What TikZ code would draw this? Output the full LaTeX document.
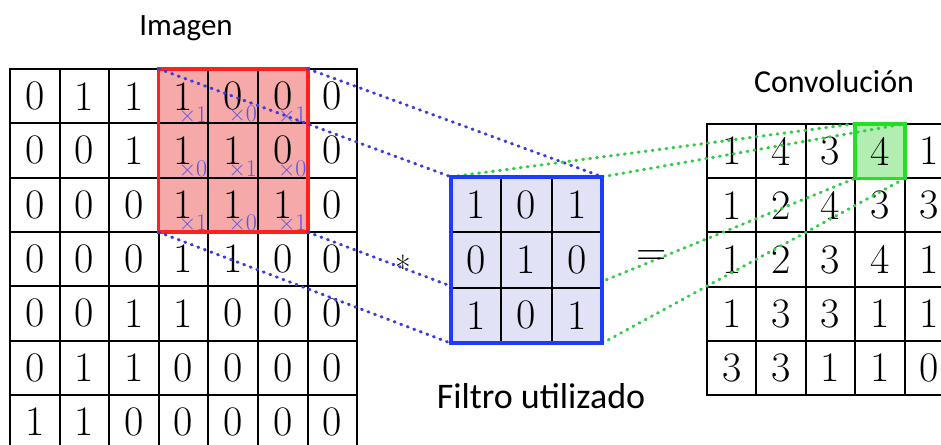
\documentclass[tikz,border=0pt]{standalone}
\usepackage{fontspec}
\newfontfamily\labelfont{Carlito}
\definecolor{redfill}{HTML}{F5A9A9}
\definecolor{redline}{HTML}{FF2020}
\definecolor{bluefill}{HTML}{E2E2F6}
\definecolor{blueline}{HTML}{1E3CFF}
\definecolor{bluedot}{HTML}{3C3CDC}
\definecolor{bluetext}{HTML}{5555E6}
\definecolor{greenfill}{HTML}{B2EEB2}
\definecolor{greenline}{HTML}{22E022}
\definecolor{greendot}{HTML}{33CC44}
\tikzset{
  cellL/.style={draw=black, line width=2pt, minimum width=49.6pt, minimum height=54.3pt, inner sep=0pt, font=\fontsize{42}{42}\selectfont},
  cellF/.style={draw=black, line width=2pt, minimum width=50.3pt, minimum height=55.3pt, inner sep=0pt, font=\fontsize{42}{42}\selectfont},
  cellR/.style={draw=black, line width=2pt, minimum width=49.4pt, minimum height=54.2pt, inner sep=0pt, font=\fontsize{42}{42}\selectfont},
  xlab/.style={text=bluetext, inner sep=0pt, anchor=south east, font=\fontsize{24}{24}\selectfont},
  dotline/.style={line width=3pt, dash pattern=on 1pt off 6pt, line cap=round},
  caption/.style={font=\labelfont\fontsize{31}{31}\selectfont, anchor=base, inner sep=0pt},
  opsym/.style={font=\fontsize{42}{42}\selectfont, inner sep=0pt}
}
\begin{document}
\begin{tikzpicture}[x=1pt,y=-1pt]
\useasboundingbox (0,0) rectangle (941,444);
\clip (0,0) rectangle (941,444);
\fill[white] (0,0) rectangle (941,444);
% ---------- left image grid ----------
\node[fill=redfill, minimum width=148.8pt, minimum height=162.9pt, inner sep=0pt] (red) at (233.2,150.45) {};
\foreach \row [count=\r from 0] in {{0,1,1,1,0,0,0},{0,0,1,1,1,0,0},{0,0,0,1,1,1,0},{0,0,0,1,1,0,0},{0,0,1,1,0,0,0},{0,1,1,0,0,0,0},{1,1,0,0,0,0,0}}{
  \foreach \v [count=\c from 0] in \row {
    \node[cellL] (L-\r-\c) at ({10+49.6*(\c+0.5)},{69+54.3*(\r+0.5)}) {\v};
  }
}
\draw[redline, line width=3.5pt] (red.north west) rectangle (red.south east);
% kernel multipliers
\foreach \row [count=\r from 0] in {{1,0,1},{0,1,0},{1,0,1}}{
  \foreach \v [count=\c from 3] in \row {
    \node[xlab, xshift=-2pt, yshift=2pt] (K-\r-\c) at (L-\r-\c.south east) {×\v};
  }
}
% filter frame (placed first, drawn later)
\node[minimum width=151pt, minimum height=166pt, inner sep=0pt] (filt) at (526.5,260) {};
% blue dotted connectors
\draw[dotline, bluedot] (red.north west) -- (filt.north west);
\draw[dotline, bluedot] (red.north east) -- (filt.north east);
\draw[dotline, bluedot] (red.south west) -- (filt.south west);
\draw[dotline, bluedot] (red.south east) -- (filt.south east);
% ---------- right result grid ----------
\node[fill=greenfill, minimum width=49.4pt, minimum height=54.2pt, inner sep=0pt] (green) at ({707+49.4*3.5},{124+54.2*0.5}) {};
\foreach \row [count=\r from 0] in {{1,4,3,4,1},{1,2,4,3,3},{1,2,3,4,1},{1,3,3,1,1},{3,3,1,1,0}}{
  \foreach \v [count=\c from 0] in \row {
    \node[cellR] (R-\r-\c) at ({707+49.4*(\c+0.5)},{124+54.2*(\r+0.5)}) {\v};
  }
}
\draw[greenline, line width=3.5pt] (green.north west) rectangle (green.south east);
% green dotted connectors
\draw[dotline, greendot] (filt.north west) -- (green.north west);
\draw[dotline, greendot] (filt.north east) -- (green.north east);
\draw[dotline, greendot] (filt.south west) -- (green.south west);
\draw[dotline, greendot] (filt.south east) -- (green.south east);
% ---------- filter ----------
\fill[bluefill] (filt.north west) rectangle (filt.south east);
\foreach \row [count=\r from 0] in {{1,0,1},{0,1,0},{1,0,1}}{
  \foreach \v [count=\c from 0] in \row {
    \node[cellF] (F-\r-\c) at ({451+50.3*(\c+0.5)},{177+55.3*(\r+0.5)}) {\v};
  }
}
\draw[blueline, line width=3.5pt] (filt.north west) rectangle (filt.south east);
% ---------- operators and captions ----------
\node[opsym, font=\fontsize{34}{34}\selectfont] (ast) at (403,268) {*};
\node[opsym] (eq) at (652,258) {=};
\node[caption] (cap1) at (186,36) {Imagen};
\node[caption, font=\labelfont\fontsize{32}{32}\selectfont] (cap2) at (834,92) {Convolución};
\node[caption, font=\labelfont\fontsize{36}{36}\selectfont] (cap3) at (541,408) {Filtro utilizado};
\end{tikzpicture}
\end{document}
